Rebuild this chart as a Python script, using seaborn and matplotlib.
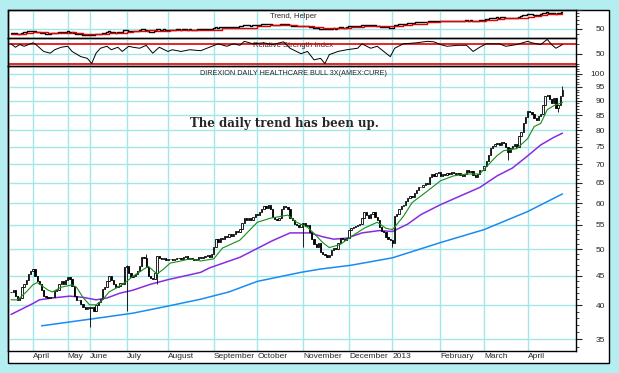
import numpy as np
import pandas as pd
import seaborn as sns
import matplotlib.pyplot as plt
from matplotlib.patches import Rectangle
from matplotlib.ticker import FixedLocator, FixedFormatter, NullFormatter

# daily closes, one per bar
closes = [
    42.2, 42.5, 41.5, 40.9, 41.2, 43.0, 43.5, 44.2, 45.3, 45.8,
    46.2, 45.0, 44.0, 43.5, 42.5, 41.6, 41.3, 41.2, 41.3, 41.4,
    42.3, 42.6, 43.5, 44.0, 43.6, 44.2, 44.8, 44.5, 43.2, 41.6,
    40.9, 40.8, 40.2, 39.7, 39.5, 39.8, 39.6, 39.8, 39.2, 40.0,
    40.5, 41.0, 42.7, 43.0, 44.0, 45.0, 44.2, 43.5, 43.0, 43.2,
    43.8, 43.5, 46.5, 46.8, 45.5, 44.8, 44.9, 45.3, 45.8, 46.7,
    48.5, 48.3, 46.5, 45.0, 44.6, 44.5, 45.5, 48.6, 48.3, 48.0,
    48.2, 47.8, 48.0, 48.1, 47.9, 48.0, 48.2, 48.3, 48.1, 48.4,
    48.6, 48.0, 48.3, 48.1, 47.9, 48.0, 48.4, 48.3, 48.5, 48.6,
    48.8, 48.4, 49.0, 50.5, 52.0, 51.5, 52.3, 52.0, 52.6, 52.4,
    53.0, 52.6, 53.0, 53.8, 53.5, 54.2, 55.5, 56.5, 56.2, 56.6,
    56.0, 56.8, 57.5, 57.2, 57.8, 58.5, 59.2, 58.8, 59.5, 58.6,
    56.8, 56.4, 56.2, 56.5, 58.6, 59.2, 59.0, 58.5, 56.5, 56.0,
    55.2, 55.0, 54.6, 55.2, 55.5, 54.8, 55.0, 53.5, 52.0, 51.0,
    50.5, 51.2, 49.5, 49.0, 48.8, 48.5, 48.9, 49.8, 50.3, 50.0,
    51.2, 52.2, 52.0, 51.8, 52.3, 54.0, 54.3, 54.6, 54.8, 55.0,
    55.3, 56.5, 57.8, 57.2, 56.5, 57.5, 57.8, 56.8, 56.0, 54.5,
    53.8, 53.5, 52.5, 52.0, 51.8, 51.2, 57.0, 57.5, 58.5, 59.2,
    59.5, 60.5, 61.2, 61.8, 61.5, 62.5, 63.2, 64.0, 63.8, 64.5,
    65.0, 64.8, 66.5, 67.2, 66.8, 67.5, 67.8, 66.8, 67.2, 67.0,
    67.5, 67.2, 67.8, 67.6, 67.2, 67.5, 67.0, 66.8, 67.2, 68.5,
    67.8, 68.2, 67.0, 66.5, 67.2, 68.5, 68.5, 69.5, 70.8, 72.5,
    74.5, 75.2, 75.8, 76.0, 75.5, 76.5, 76.2, 75.0, 73.5, 74.5,
    75.2, 75.8, 75.0, 78.2, 79.5, 82.5, 84.5, 86.2, 86.0, 85.5,
    84.0, 83.5, 84.8, 85.5, 88.5, 91.5, 92.0, 90.5, 89.0, 91.0,
    87.5, 88.5, 91.5, 94.0,
]

# long shadows sticking out of the bodies
wick_low_idx = [36, 53, 67, 134, 175, 228, 251]
wick_low_val = [36.8, 39.2, 43.5, 50.4, 50.5, 71.0, 86.0]
wick_high_idx = [53, 62, 253]
wick_high_val = [47.0, 49.0, 95.5]

# short moving average (green)
green_x = [0, 3, 7, 10, 12, 17, 19, 23, 28, 30, 33, 36, 39, 42, 45, 49, 53, 56, 61, 63,
           67, 70, 73, 78, 82, 87, 93, 97, 105, 113, 119, 127, 131, 136, 139, 143, 146,
           151, 156, 162, 168, 172, 175, 180, 184, 191, 197, 203, 209, 215, 218, 223,
           226, 232, 237, 240, 243, 246, 249, 253]
green_y = [40.9, 40.9, 42.2, 43.4, 43.8, 42.5, 42.2, 43.0, 43.4, 43.0, 41.3, 40.1, 40.1,
           40.9, 42.2, 43.0, 44.0, 44.9, 46.2, 46.7, 45.3, 46.2, 47.3, 47.7, 48.1, 47.7,
           48.1, 50.2, 51.8, 55.6, 56.5, 57.2, 55.6, 54.5, 53.2, 51.3, 50.3, 50.9, 52.5,
           54.3, 55.6, 54.3, 54.0, 56.9, 60.1, 62.9, 65.5, 66.8, 67.3, 67.3, 69.2, 72.4,
           73.8, 74.4, 77.4, 81.2, 82.2, 86.8, 88.2, 89.3]

# medium moving average (purple)
purple_x = [0, 10, 13, 19, 27, 33, 39, 44, 50, 56, 64, 72, 79, 87, 91, 105, 120, 128,
            137, 143, 148, 154, 161, 169, 175, 182, 188, 197, 207, 215, 223, 230, 237,
            243, 249, 253]
purple_y = [38.6, 40.3, 40.9, 41.2, 41.5, 41.3, 40.9, 41.2, 42.0, 42.5, 43.5, 44.3, 44.9,
            45.6, 46.4, 48.4, 51.7, 53.3, 53.3, 52.5, 52.0, 52.2, 53.3, 53.8, 53.6, 55.2,
            57.3, 59.6, 61.9, 63.8, 66.8, 68.9, 72.3, 75.5, 77.8, 79.1]

# long moving average (blue)
blue_x = [14, 41, 56, 72, 87, 100, 113, 133, 142, 156, 175, 197, 217, 237, 253]
blue_y = [36.9, 38.1, 38.8, 39.9, 41.0, 42.2, 44.0, 45.6, 46.2, 46.9, 48.3, 51.3, 54.0,
          58.0, 62.2]

# relative strength index
rsi_x = [0, 2, 4, 6, 10, 11, 15, 18, 20, 23, 26, 28, 32, 35, 37, 39, 41, 44, 46, 49,
         51, 54, 56, 59, 62, 65, 68, 72, 74, 78, 82, 87, 91, 95, 99, 102, 105, 107, 111,
         116, 120, 125, 128, 133, 136, 139, 142, 144, 146, 150, 154, 159, 161, 165, 168,
         171, 174, 176, 180, 186, 191, 194, 197, 200, 205, 209, 212, 215, 218, 224, 227,
         232, 237, 239, 243, 246, 248, 250, 253]
rsi_y = [70, 63, 68.5, 65, 72, 70, 54.5, 51, 58, 63, 65, 54.5, 44, 40.5, 30, 51, 61, 65,
         58, 63, 54.5, 65, 63, 61, 67, 51, 63, 54.5, 58, 54.5, 58, 56, 63, 70, 65, 70, 67,
         75, 70, 72, 68.5, 74, 61, 50, 54.5, 37.5, 40.5, 30, 48, 54.5, 58, 61, 70, 61, 65,
         54.5, 44, 61, 70, 72, 75, 74, 68.5, 65, 67, 67, 54.5, 63, 70, 70, 65, 68.5, 75,
         72, 68.5, 79, 68.5, 61, 68.5]

month_idx = [10, 26, 36, 53, 72, 93, 113, 134, 155, 175, 197, 217, 237]
month_labels = ["April", "May", "June", "July", "August", "September", "October",
                "November", "December", "2013", "February", "March", "April"]
price_ticks = [35, 40, 45, 50, 55, 60, 65, 70, 75, 80, 85, 90, 95, 100]

BG = "#b4eef0"
GRID = "#a2e6e8"
RED = "#e00000"

sns.set_style("white")
plt.rcParams["font.family"] = ["Liberation Sans", "DejaVu Sans"]

df = pd.DataFrame({"close": closes})
df["bar"] = np.arange(len(df))
df["open"] = df["close"].shift(1).fillna(df["close"])
df["low"] = df[["open", "close"]].min(axis=1)
df["high"] = df[["open", "close"]].max(axis=1)
df.loc[wick_low_idx, "low"] = wick_low_val
df.loc[wick_high_idx, "high"] = wick_high_val

W, H = 619, 373


def box(top, bottom, left=8, right=576):
    return [left / W, 1 - bottom / H, (right - left) / W, (bottom - top) / H]


fig = plt.figure(figsize=(6.19, 3.73), dpi=100, facecolor=BG)
fig.patches.append(Rectangle((8 / W, 1 - 363 / H), 601 / W, 353 / H,
                             transform=fig.transFigure, facecolor="white",
                             edgecolor="black", lw=1.0, zorder=-1))
ax_t = fig.add_axes(box(10, 37.7))
ax_r = fig.add_axes(box(37.7, 66))
ax = fig.add_axes(box(66, 351))

for a in (ax_t, ax_r, ax):
    a.set_facecolor("none")
    a.set_xlim(-1.4, 259.2)
    for s in a.spines.values():
        s.set_color("black")
        s.set_linewidth(1.0)
    a.xaxis.set_major_locator(FixedLocator(month_idx))
    a.grid(axis="x", color=GRID, lw=1.0)
    a.set_axisbelow(True)
    a.yaxis.tick_right()

# --- Trend, Helper panel
sns.lineplot(x=df["bar"], y=df["close"], ax=ax_t, color="black", lw=1.0,
             drawstyle="steps-mid")
sns.lineplot(x=green_x, y=green_y, ax=ax_t, color=RED, lw=1.0, drawstyle="steps-post")
ax_t.set_yscale("log")
ax_t.set_ylim(35.3, 101)
ax_t.yaxis.set_major_locator(FixedLocator([50, 100]))
ax_t.yaxis.set_major_formatter(FixedFormatter(["50", ""]))
ax_t.yaxis.set_minor_locator(FixedLocator([40, 60, 70, 80, 90]))
ax_t.yaxis.set_minor_formatter(NullFormatter())
ax_t.text(0.5018, 0.765, "Trend, Helper", transform=ax_t.transAxes, ha="center",
          va="center", fontsize=5.5)

# --- RSI panel
ax_r.axhline(70, color=RED, lw=1.2)
ax_r.axhline(30, color=RED, lw=1.2)
ax_r.text(0.5018, 0.742, "Relative Strength Index", transform=ax_r.transAxes,
          ha="center", va="center", fontsize=5.5, zorder=1)
sns.lineplot(x=rsi_x, y=rsi_y, ax=ax_r, color="black", lw=0.7, zorder=3)
ax_r.set_ylim(25, 82.4)
ax_r.yaxis.set_major_locator(FixedLocator([50]))
ax_r.yaxis.set_major_formatter(FixedFormatter(["50"]))
ax_r.yaxis.set_minor_locator(FixedLocator([30, 70]))

for a in (ax_t, ax_r):
    a.grid(axis="y", which="major", color=GRID, lw=1.0)
    a.tick_params(axis="x", length=0, labelbottom=False)
    a.tick_params(axis="y", which="major", length=4, width=0.8, pad=16.9,
                  labelsize=6, right=True, left=False, labelright=True, labelleft=False)
    a.tick_params(axis="y", which="minor", length=2, width=0.6, right=True, left=False)
    for lab in a.get_yticklabels():
        lab.set_horizontalalignment("right")
    a.set_xlabel("")
    a.set_ylabel("")

# --- price panel
ax.vlines(df["bar"], df["low"], df["high"], color="black", lw=0.6, zorder=3)
up = df[df["close"] >= df["open"]]
down = df[df["close"] < df["open"]]
ax.bar(up["bar"], up["close"] - up["open"], bottom=up["open"], width=0.6,
       color="white", edgecolor="black", lw=0.6, zorder=4)
ax.bar(down["bar"], down["open"] - down["close"], bottom=down["close"], width=0.6,
       color="black", edgecolor="black", lw=0.6, zorder=4)

sns.lineplot(x=blue_x, y=blue_y, ax=ax, color="#1a8cf0", lw=1.1, zorder=2)
sns.lineplot(x=purple_x, y=purple_y, ax=ax, color="#8a2be2", lw=1.1, zorder=2)
sns.lineplot(x=green_x, y=green_y, ax=ax, color="#1a8c1a", lw=0.8, zorder=5)

ax.set_yscale("log")
ax.set_ylim(33.4, 103.2)
ax.yaxis.set_major_locator(FixedLocator(price_ticks))
ax.yaxis.set_major_formatter(FixedFormatter([str(t) for t in price_ticks]))
ax.yaxis.set_minor_locator(FixedLocator([v for v in range(34, 104) if v % 5]))
ax.yaxis.set_minor_formatter(NullFormatter())
ax.grid(axis="y", which="major", color=GRID, lw=1.0)
ax.tick_params(axis="y", which="major", length=4, width=0.8, pad=16.9, labelsize=6,
               right=True, left=False, labelright=True, labelleft=False)
ax.tick_params(axis="y", which="minor", length=2, width=0.6, right=True, left=False)
for lab in ax.get_yticklabels():
    lab.set_horizontalalignment("right")

ax.set_xticklabels(month_labels, ha="left", fontsize=6)
ax.xaxis.set_minor_locator(FixedLocator(np.arange(0, 259, 2.57)))
ax.tick_params(axis="x", which="major", length=8.6, width=0.8, pad=-6.8,
               direction="out")
ax.tick_params(axis="x", which="minor", length=3, width=0.8)
ax.set_xlabel("")
ax.set_ylabel("")

ax.text(0.5018, 0.9754, "DIREXION DAILY HEALTHCARE BULL 3X(AMEX:CURE)",
        transform=ax.transAxes, ha="center", va="center", fontsize=5.2)
ax.text(0.4868, 0.7965, "The daily trend has been up.", transform=ax.transAxes,
        ha="center", va="center", fontsize=8.5, fontweight="bold",
        family=["DejaVu Serif"])

fig.savefig("out.png", dpi=100, facecolor=BG)
